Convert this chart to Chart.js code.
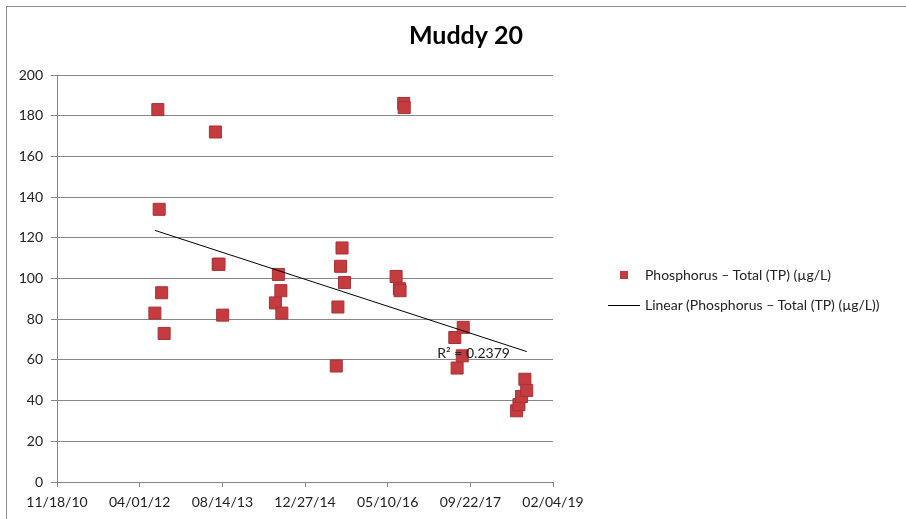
<!DOCTYPE html>
<html>
<head>
<meta charset="utf-8">
<script src="https://cdn.jsdelivr.net/npm/chart.js@4/dist/chart.umd.min.js"></script>
<style>
  body { margin: 0; background: #fff; }
  #wrap { position: relative; width: 906px; height: 519px; overflow: hidden; }
  #frame { position: absolute; left: 6px; top: 6px; right: 0; bottom: 0; border-left: 1px solid #8c8c8c; border-top: 1px solid #8c8c8c; }
  #chart { position: absolute; left: 0; top: 0; }
  .leg { position: absolute; font-family: Lato, sans-serif; font-size: 14px; color: #222; white-space: nowrap; line-height: 16px; }
  .leg .box { position: absolute; }
</style>
</head>
<body>
<div id="wrap">
  <div id="frame"></div>
  <!-- canvas is a bit wider than the page so the title centres where excel put it -->
  <canvas id="chart" width="932" height="519"></canvas>
  <div class="leg" style="left:608px; top:267px;">
    <span class="box" style="left:12px; top:4px; width:8px; height:8px; background:#c43c3f;"></span>
    <span style="margin-left:37px;">Phosphorus – Total (TP) (µg/L)</span>
  </div>
  <div class="leg" style="left:608px; top:297px;">
    <span class="box" style="left:0; top:8px; width:32px; height:1px; background:#000;"></span>
    <span style="margin-left:37px;">Linear (Phosphorus – Total (TP) (µg/L))</span>
  </div>
</div>
<script>
// sample dates and total phosphorus (ug/L)
const sampleDates = [
  '2012-07-02', '2012-07-20', '2012-07-28', '2012-08-12', '2012-08-27',
  '2013-07-03', '2013-07-20', '2013-07-25', '2013-08-16',
  '2014-07-01', '2014-07-19', '2014-08-03', '2014-08-09',
  '2015-07-04', '2015-07-14', '2015-07-30', '2015-08-08', '2015-08-23',
  '2016-06-30', '2016-07-20', '2016-07-24', '2016-08-15', '2016-08-18',
  '2017-06-20', '2017-07-04', '2017-08-04', '2017-08-10',
  '2018-06-29', '2018-07-13', '2018-07-29', '2018-08-18', '2018-08-29'
];
const tpValues = [
  83, 183, 134, 93, 73,
  172, 107, 107, 82,
  88, 102, 94, 83,
  57, 86, 106, 115, 98,
  101, 95, 94, 186, 184,
  71, 56, 62, 76,
  35, 38, 42, 50.5, 45
];
const chartTitle = 'Muddy 20';
const seriesName = 'Phosphorus – Total (TP) (µg/L)';
const trendName = 'Linear (Phosphorus – Total (TP) (µg/L))';
const rSquaredText = 'R² = 0.2379';

// x axis works in excel day numbers, ticks every 500 days
const xMin = 40500, xMax = 43500, xStep = 500;
const yMin = 0, yMax = 200, yStep = 20;

const excelEpoch = Date.UTC(1899, 11, 30);
function toSerial(d) {
  return (Date.parse(d + 'T00:00:00Z') - excelEpoch) / 86400000;
}
function serialLabel(v) {
  const d = new Date(excelEpoch + v * 86400000);
  const p = n => String(n).padStart(2, '0');
  return p(d.getUTCMonth() + 1) + '/' + p(d.getUTCDate()) + '/' + p(d.getUTCFullYear() % 100);
}

const points = sampleDates.map((d, i) => ({ x: toSerial(d), y: tpValues[i] }));

// least squares trend line over the samples
function linearFit(pts) {
  const n = pts.length;
  let sx = 0, sy = 0, sxx = 0, sxy = 0;
  pts.forEach(p => { sx += p.x; sy += p.y; sxx += p.x * p.x; sxy += p.x * p.y; });
  const slope = (n * sxy - sx * sy) / (n * sxx - sx * sx);
  const icept = (sy - slope * sx) / n;
  return x => icept + slope * x;
}
const fit = linearFit(points);
const xs = points.map(p => p.x);
const firstX = Math.min(...xs), lastX = Math.max(...xs);
const trendPoints = [{ x: firstX, y: fit(firstX) }, { x: lastX, y: fit(lastX) }];

const gridColor = '#878787';
const tickFont = { family: 'Lato, sans-serif', size: 14 };

const rLabelPlugin = {
  id: 'rLabel',
  afterDatasetsDraw(chart) {
    const { ctx, scales } = chart;
    ctx.save();
    ctx.font = '14px Lato, sans-serif';
    ctx.fillStyle = '#222';
    ctx.textBaseline = 'middle';
    ctx.fillText(rSquaredText, scales.x.getPixelForValue(42800), scales.y.getPixelForValue(63));
    ctx.restore();
  }
};

new Chart(document.getElementById('chart'), {
  type: 'scatter',
  data: {
    datasets: [
      {
        label: trendName,
        type: 'line',
        data: trendPoints,
        borderColor: '#000',
        borderWidth: 1,
        pointRadius: 0,
        fill: false
      },
      {
        label: seriesName,
        data: points,
        pointStyle: 'rect',
        pointRadius: 8.5,
        pointHoverRadius: 8.5,
        backgroundColor: '#c43c3f',
        borderColor: '#a83235',
        borderWidth: 1
      }
    ]
  },
  options: {
    responsive: false,
    animation: false,
    events: [],
    layout: { padding: { left: 0, right: 0, top: 6, bottom: 7 } },
    plugins: {
      legend: { display: false },
      tooltip: { enabled: false },
      title: {
        display: true,
        text: chartTitle,
        color: '#000',
        font: { family: 'Lato, sans-serif', size: 25, weight: 'bold' },
        padding: { top: 15, bottom: 24 }
      }
    },
    scales: {
      x: {
        type: 'linear',
        min: xMin,
        max: xMax,
        afterFit: s => { s.height = 30; },
        afterBuildTicks: s => {
          s.ticks = [];
          for (let v = xMin; v <= xMax; v += xStep) s.ticks.push({ value: v });
        },
        grid: { drawOnChartArea: false, drawTicks: true, tickLength: 5, color: gridColor },
        border: { display: true, color: gridColor },
        ticks: {
          padding: 7,
          maxRotation: 0,
          autoSkip: false,
          color: '#222',
          font: tickFont,
          callback: v => serialLabel(v)
        }
      },
      y: {
        min: yMin,
        max: yMax,
        afterFit: s => { s.width = 57; },
        grid: { color: gridColor, tickLength: 6 },
        border: { display: true, color: gridColor },
        ticks: { stepSize: yStep, padding: 8, color: '#222', font: tickFont }
      },
      yRight: {
        position: 'right',
        afterFit: s => { s.width = 379; },
        grid: { display: false },
        border: { display: false },
        ticks: { display: false }
      }
    }
  },
  plugins: [rLabelPlugin]
});
</script>
</body>
</html>
